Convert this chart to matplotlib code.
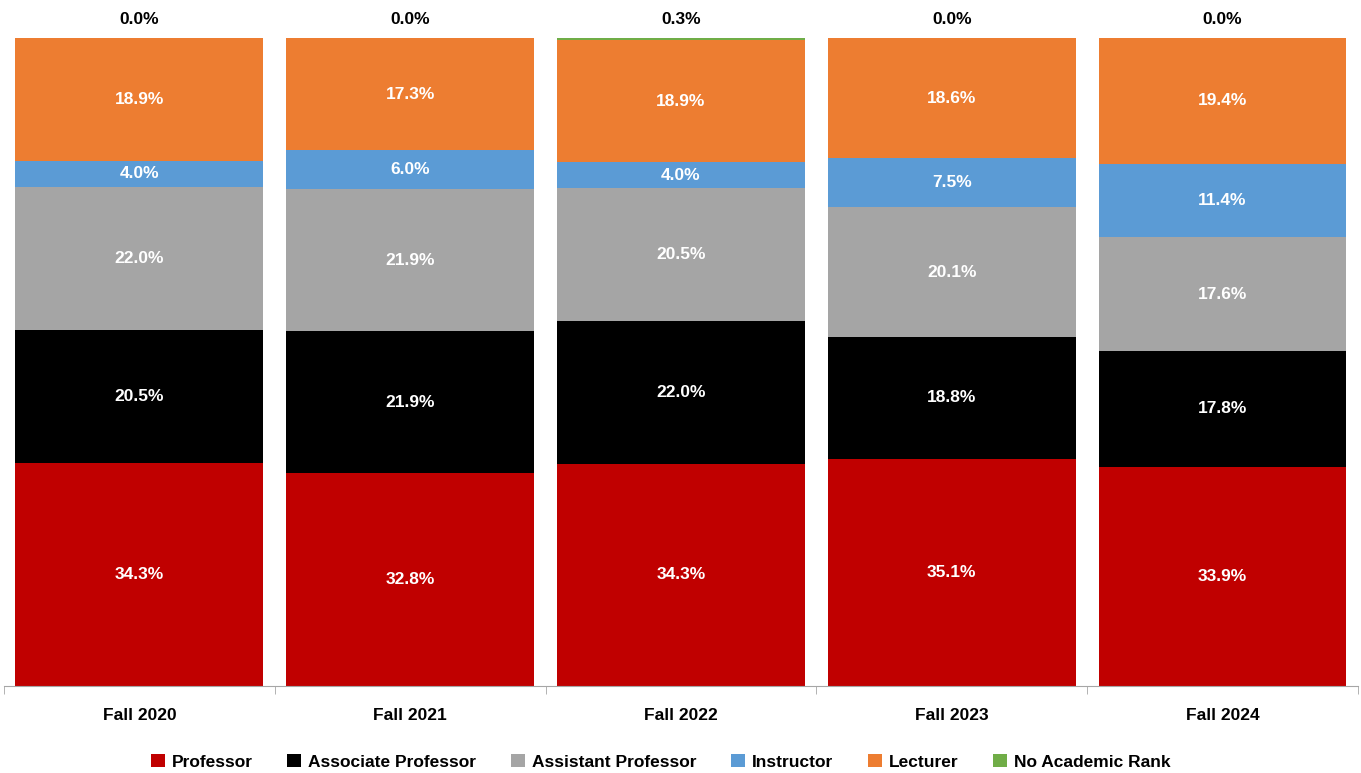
import matplotlib
matplotlib.use('Agg')
import matplotlib.pyplot as plt
import numpy as np

# data
terms = ['Fall 2020', 'Fall 2021', 'Fall 2022', 'Fall 2023', 'Fall 2024']
ranks = ['Professor', 'Associate Professor', 'Assistant Professor',
         'Instructor', 'Lecturer', 'No Academic Rank']
professor = [34.3, 32.8, 34.3, 35.1, 33.9]
associate = [20.5, 21.9, 22.0, 18.8, 17.8]
assistant = [22.0, 21.9, 20.5, 20.1, 17.6]
instructor = [4.0, 6.0, 4.0, 7.5, 11.4]
lecturer = [18.9, 17.3, 18.9, 18.6, 19.4]
no_rank = [0.0, 0.0, 0.3, 0.0, 0.0]

series = [professor, associate, assistant, instructor, lecturer, no_rank]
colors = ['#C00000', '#000000', '#A5A5A5', '#5B9BD5', '#ED7D31', '#70AD47']

plt.rcParams['font.family'] = ['Liberation Sans', 'DejaVu Sans']

fig = plt.figure(figsize=(13.61, 7.73), dpi=100)
ax = fig.add_axes([0.0029, 0.1125, 0.9949, 0.8383])

# 100% stacked: scale each column so it fills the axis
totals = np.sum(np.array(series), axis=0)
x = np.arange(len(terms))
bottom = np.zeros(len(terms))
handles = []
for vals, col, name in zip(series, colors, ranks):
    vals = np.array(vals)
    h = vals / totals * 100
    b = ax.bar(x, h, 0.915, bottom=bottom, color=col, label=name)
    handles.append(b)
    for xi, v, hv, bt in zip(x, vals, h, bottom):
        if name == 'No Academic Rank':
            ax.annotate(f'{v:.1f}%', (xi, bt + hv), xytext=(0, 13),
                        textcoords='offset points', ha='center', va='center',
                        fontsize=12.5, fontweight='bold', color='black',
                        annotation_clip=False)
        else:
            ax.text(xi, bt + hv / 2, f'{v:.1f}%', ha='center', va='center',
                    fontsize=12.5, fontweight='bold', color='white')
    bottom += h

ax.set_xlim(-0.5, len(terms) - 0.5)
ax.set_ylim(0, 100)
ax.set_yticks([])
for s in ['left', 'right', 'top']:
    ax.spines[s].set_visible(False)
ax.spines['bottom'].set_color('#A6A6A6')

ax.set_xticks(x)
ax.set_xticklabels(terms, fontsize=12.5, fontweight='bold')
ax.tick_params(axis='x', which='major', length=0, pad=16)
ax.set_xticks(np.arange(-0.5, len(terms)), minor=True)
ax.tick_params(axis='x', which='minor', length=6, color='#A6A6A6')

ax.legend(handles, ranks, loc='center', bbox_to_anchor=(0.485, -0.117),
          ncol=6, frameon=False, handlelength=0.8,
          handleheight=0.8, handletextpad=0.4, columnspacing=2.0,
          prop={'weight': 'bold', 'size': 12.5})

fig.savefig('out.png', dpi=100)
